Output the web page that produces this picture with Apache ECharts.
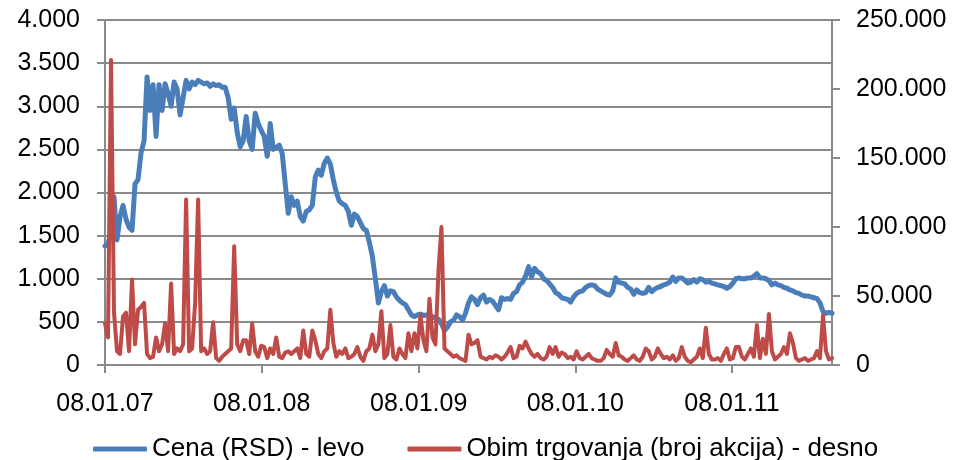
<!DOCTYPE html>
<html>
<head>
<meta charset="utf-8">
<script src="https://cdn.jsdelivr.net/npm/echarts@6/dist/echarts.min.js"></script>
<style>html,body{margin:0;padding:0;background:#fff}#c{width:955px;height:460px}</style>
</head>
<body>
<div id="c"></div>
<script>
// Weekly samples starting on this date (one value per week)
const startDate = '2007-01-08';
const sampleStepDays = 7;

// Cena (RSD) - left axis
const price = [
  1380,1400,1550,1950,1450,1720,1850,1690,1600,1560,
  2100,2150,2460,2600,3340,2950,3250,2650,3250,2950,
  3260,3150,3000,3280,3200,2900,3100,3300,3200,3280,
  3250,3300,3280,3260,3270,3230,3260,3240,3250,3220,
  3220,3100,2850,2980,2700,2530,2600,2880,2600,2500,
  2920,2800,2720,2650,2420,2800,2500,2520,2550,2450,
  2100,1760,1950,1850,1900,1720,1670,1780,1800,1850,
  2180,2260,2200,2340,2400,2330,2150,2000,1900,1870,
  1850,1780,1620,1750,1720,1650,1580,1560,1420,1260,
  1000,720,850,920,800,860,850,790,750,720,
  700,640,580,560,580,590,575,580,570,560,
  540,530,480,400,440,500,520,580,560,520,
  600,720,790,760,700,780,810,730,760,740,
  690,640,780,760,770,760,830,850,930,960,
  1030,1140,1020,1120,1080,1060,1000,980,940,900,
  840,820,780,770,760,730,790,830,850,860,
  900,920,930,920,880,860,840,820,810,860,
  1010,960,950,940,900,880,820,870,840,830,
  840,900,850,880,900,910,930,940,960,1020,
  970,1010,1010,980,950,960,990,960,1000,990,
  960,970,950,940,930,920,910,890,910,950,
  1000,1010,1000,1000,1010,1010,1030,1060,1010,1010,
  1000,980,930,950,930,920,900,890,870,860,
  840,830,810,800,800,790,780,770,720,620,
  600,610,600
];

// Obim trgovanja (broj akcija) - right axis
const volume = [
  30000,20000,221000,38000,10000,8000,35000,38000,10000,62000,
  15000,40000,42000,45000,8000,5000,6000,20000,10000,15000,
  30000,10000,59000,8000,12000,10000,15000,120000,10000,12000,
  45000,120000,10000,12000,8000,10000,31000,5000,3000,6000,
  8000,10000,12000,86000,15000,10000,18000,18000,8000,30000,
  10000,6000,14000,13000,5000,12000,8000,20000,6000,5000,
  9000,10000,8000,10000,12000,5000,25000,8000,6000,25000,
  18000,8000,5000,10000,12000,40000,16000,6000,10000,8000,
  12000,5000,6000,8000,13000,6000,3000,10000,12000,22000,
  10000,15000,39000,5000,8000,29000,6000,4000,12000,8000,
  5000,23000,10000,23000,12000,36000,18000,10000,48000,20000,
  15000,68000,100000,12000,10000,8000,6000,7000,5000,4000,
  3000,22000,15000,16000,18000,6000,5000,4000,6000,5000,
  7000,6000,4000,6000,9000,13000,5000,6000,14000,12000,
  17000,12000,8000,6000,8000,5000,4000,6000,13000,8000,
  13000,6000,9000,8000,5000,6000,4000,10000,5000,4000,
  6000,8000,5000,4000,3000,3000,5000,11000,8000,6000,
  16000,7000,6000,4000,3000,5000,7000,4000,3000,6000,
  12000,10000,4000,6000,12000,8000,5000,6000,4000,7000,
  3000,5000,13000,6000,3000,2000,4000,6000,12000,5000,
  27000,8000,4000,4000,5000,3000,8000,12000,4000,5000,
  13000,13000,6000,4000,8000,12000,6000,29000,5000,19000,
  8000,37000,10000,4000,6000,8000,13000,8000,23000,16000,
  5000,3000,4000,5000,3000,4000,5000,10000,5000,36000,
  10000,4000,5000
];

const xTickDates = ['2007-01-08','2008-01-08','2009-01-08','2010-01-08','2011-01-08'];
const xTickLabels = ['08.01.07','08.01.08','08.01.09','08.01.10','08.01.11'];
const seriesNames = ['Cena (RSD) - levo', 'Obim trgovanja (broj akcija) - desno'];

const DAY = 86400000;
const t0 = Date.parse(startDate);
const dayOf = d => Math.round((Date.parse(d) - t0) / DAY);
const xDays = price.map((_, i) => i * sampleStepDays);
const tickDays = xTickDates.map(dayOf);
const fmt = v => String(v).replace(/\B(?=(\d{3})+(?!\d))/g, '.');

const GRAY = '#8a8a8a';
const FONT = 'Liberation Sans, Arial, sans-serif';
const axisLine = { show: true, lineStyle: { color: GRAY, width: 2 } };
const axisTick = { show: true, length: 8, inside: false, lineStyle: { color: GRAY, width: 2 } };

const chart = echarts.init(document.getElementById('c'), null, { renderer: 'canvas' });
chart.setOption({
  animation: false,
  backgroundColor: '#ffffff',
  grid: { left: 105, right: 123, top: 20, bottom: 95 },
  legend: {
    left: 88, top: 431,
    icon: 'roundRect',
    itemWidth: 54, itemHeight: 5, itemGap: 43,
    textStyle: { fontSize: 26, color: '#000', fontFamily: FONT },
    data: seriesNames
  },
  xAxis: {
    type: 'value',
    min: 0,
    max: xDays[xDays.length - 1],
    axisLine: axisLine,
    axisTick: Object.assign({}, axisTick, { customValues: tickDays }),
    axisLabel: {
      customValues: tickDays,
      formatter: v => xTickLabels[tickDays.indexOf(v)] || '',
      fontSize: 25, color: '#000', fontFamily: FONT, margin: 27
    },
    splitLine: { show: false }
  },
  yAxis: [
    {
      type: 'value', min: 0, max: 4000, interval: 500, position: 'left',
      axisLine: axisLine, axisTick: axisTick,
      axisLabel: { formatter: fmt, fontSize: 25, color: '#000', fontFamily: FONT, margin: 25 },
      splitLine: { show: true, lineStyle: { color: GRAY, width: 2 } }
    },
    {
      type: 'value', min: 0, max: 250000, interval: 50000, position: 'right',
      axisLine: axisLine, axisTick: axisTick,
      axisLabel: { formatter: fmt, fontSize: 25, color: '#000', fontFamily: FONT, margin: 24 },
      splitLine: { show: false }
    }
  ],
  series: [
    {
      name: seriesNames[0], type: 'line', yAxisIndex: 0,
      data: xDays.map((x, i) => [x, price[i]]),
      symbol: 'none', showSymbol: false,
      lineStyle: { color: '#4A7EBB', width: 5, join: 'round', cap: 'round' },
      itemStyle: { color: '#4A7EBB' }
    },
    {
      name: seriesNames[1], type: 'line', yAxisIndex: 1,
      data: xDays.map((x, i) => [x, volume[i]]),
      symbol: 'none', showSymbol: false,
      lineStyle: { color: '#BE4B48', width: 4, join: 'round', cap: 'round' },
      itemStyle: { color: '#BE4B48' }
    }
  ]
});
</script>
</body>
</html>
